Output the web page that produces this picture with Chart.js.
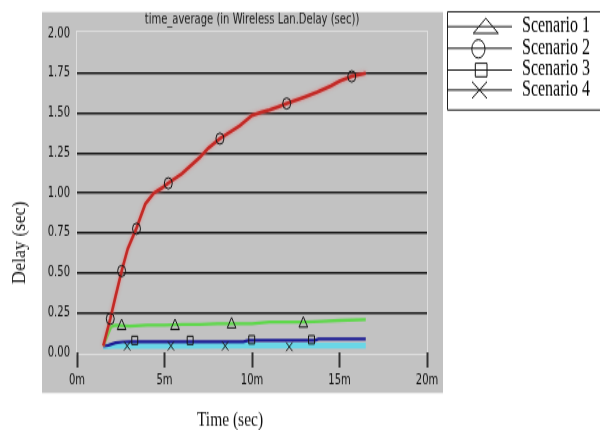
<!DOCTYPE html>
<html>
<head>
<meta charset="UTF-8">
<title>time_average (in Wireless Lan.Delay (sec))</title>
<script src="https://cdn.jsdelivr.net/npm/chart.js@4/dist/chart.umd.min.js"></script>
<style>
  html, body { margin:0; padding:0; background:#fff; }
  #cvs { display:block; }
</style>
</head>
<body>
<!-- drawn at 600x310, shown stretched to 600x430 -->
<canvas id="cvs" width="600" height="310" style="width:600px;height:430px"></canvas>
<script>
// series names
const names = ['Scenario 1', 'Scenario 2', 'Scenario 3', 'Scenario 4'];

// time (sec) / delay (sec) per scenario
const t1 = [90, 117, 132, 180, 240, 300, 360, 420, 480, 540, 600, 660, 720, 780, 840, 900, 990];
const d1 = [0.04, 0.16, 0.17, 0.165, 0.17, 0.17, 0.175, 0.175, 0.18, 0.18, 0.18, 0.19, 0.19, 0.19, 0.195, 0.20, 0.205];

const t2 = [90, 114, 132, 153, 174, 204, 234, 264, 291, 312, 360, 390, 420, 450, 490, 558, 600, 630, 660, 690, 720, 780, 822, 870, 900, 942, 990];
const d2 = [0.04, 0.21, 0.35, 0.51, 0.65, 0.78, 0.93, 1.00, 1.03, 1.06, 1.12, 1.17, 1.22, 1.28, 1.34, 1.42, 1.485, 1.505, 1.52, 1.54, 1.56, 1.60, 1.63, 1.67, 1.70, 1.73, 1.75];

const t3 = [90, 108, 132, 156, 180, 360, 570, 588, 816, 828, 990];
const d3 = [0.04, 0.045, 0.06, 0.065, 0.066, 0.066, 0.066, 0.075, 0.075, 0.084, 0.084];

const t4 = [90, 120, 300, 600, 900, 990];
const d4 = [0.035, 0.04, 0.04, 0.042, 0.042, 0.042];

// symbol positions along each curve
const m1t = [153, 336, 530, 776];
const m1d = [0.165, 0.165, 0.175, 0.18];
const m2t = [114, 153, 204, 313, 490, 719, 942];
const m2d = [0.21, 0.51, 0.775, 1.06, 1.34, 1.56, 1.73];
const m3t = [198, 388, 599, 804];
const m3d = [0.075, 0.075, 0.079, 0.079];
const m4t = [172, 322, 508, 728];
const m4d = [0.04, 0.04, 0.04, 0.035];

// axes
const xMax = 1200, xStep = 300;   // 0m .. 20m
const yMax = 2, yStep = 0.25;

const title = 'time_average (in Wireless Lan.Delay (sec))';
const xTitle = 'Time (sec)';
const yTitle = 'Delay (sec)';

(() => {
  const stretch = 430 / 310;
  const pts = (xs, ys) => xs.map((x, i) => ({ x, y: ys[i] }));
  const line = (label, xs, ys, color, w, order) => ({
    label, data: pts(xs, ys), borderColor: color, borderWidth: w,
    pointRadius: 0, tension: 0, fill: false, order
  });
  const marks = (label, xs, ys, style, r) => ({
    label, data: pts(xs, ys), showLine: false, pointStyle: style, pointRadius: r,
    pointBorderColor: '#151515', pointBackgroundColor: 'rgba(0,0,0,0)',
    pointBorderWidth: 1, order: 0
  });

  // grey panel, frame, titles
  const backdrop = {
    id: 'backdrop',
    beforeDraw(chart) {
      const c = chart.ctx, a = chart.chartArea;
      c.save();
      c.fillStyle = '#fff';
      c.fillRect(0, 0, chart.width, chart.height);
      c.fillStyle = '#c2c2c2';
      c.fillRect(42, 8.7, 401, 274.6);
      c.strokeStyle = '#dedede';
      c.lineWidth = 1;
      c.strokeRect(a.left - 0.5, a.top - 1.5, a.right - a.left + 1, a.bottom - a.top + 3);
      c.fillStyle = '#1a1a1a';
      c.font = '10px "DejaVu Sans"';
      c.textAlign = 'center';
      c.textBaseline = 'middle';
      c.fillText(title, (a.left + a.right) / 2, 14.4);
      c.fillStyle = '#111';
      c.font = '15.5px "Liberation Serif"';
      c.fillText(xTitle, 230, 302.8);
      // vertical title, squeezed so the page stretch leaves it upright
      c.translate(20, 175);
      c.scale(1, 1 / stretch);
      c.rotate(-Math.PI / 2);
      c.font = '18px "Liberation Serif"';
      c.fillText(yTitle, 0, 0);
      c.restore();
    }
  };

  // soft glow under the red curve
  const glow = {
    id: 'glow',
    beforeDatasetDraw(chart, args) {
      if (args.meta.dataset && args.meta.dataset.options.borderColor === '#c22a26') {
        chart.ctx.save();
        chart.ctx.shadowColor = 'rgba(235,120,120,0.9)';
        chart.ctx.shadowBlur = 3;
      }
    },
    afterDatasetDraw(chart, args) {
      if (args.meta.dataset && args.meta.dataset.options.borderColor === '#c22a26') chart.ctx.restore();
    }
  };

  // legend box at the right
  const legendBox = {
    id: 'legendBox',
    afterDraw(chart) {
      const c = chart.ctx;
      const rows = [19.2, 34.8, 50.5, 64.9];
      c.save();
      c.strokeStyle = '#222';
      c.lineWidth = 1;
      c.beginPath();
      c.moveTo(600, 8.5); c.lineTo(447.5, 8.5); c.lineTo(447.5, 79.3); c.lineTo(600, 79.3);
      c.stroke();
      rows.forEach((y, i) => {
        c.strokeStyle = '#111';
        c.lineWidth = 1;
        c.beginPath();
        c.moveTo(447, y); c.lineTo(512, y);
        c.stroke();
        c.beginPath();
        if (i === 0) {
          c.moveTo(485.8, 13.2); c.lineTo(498.3, 24); c.lineTo(473.3, 24); c.closePath();
        } else if (i === 1) {
          c.ellipse(478.4, y + 0.4, 6.6, 6.6, 0, 0, Math.PI * 2);
        } else if (i === 2) {
          c.rect(475.3, 45.6, 11.7, 9.7);
        } else {
          c.moveTo(472, 58.9); c.lineTo(487, 70.9);
          c.moveTo(487, 58.9); c.lineTo(472, 70.9);
        }
        c.stroke();
        c.fillStyle = '#000';
        c.font = '16px "Liberation Serif"';
        c.textAlign = 'left';
        c.textBaseline = 'middle';
        c.fillText(names[i], 522, y - 0.5);
      });
      c.restore();
    }
  };

  new Chart(document.getElementById('cvs'), {
    type: 'line',
    data: {
      datasets: [
        marks(names[0], m1t, m1d, 'triangle', 5),
        marks(names[1], m2t, m2d, 'circle', 4),
        marks(names[2], m3t, m3d, 'rect', 4.2),
        marks(names[3], m4t, m4d, 'crossRot', 4.5),
        line(names[1], t2, d2, '#c22a26', 2.6, 1),
        line(names[0], t1, d1, '#5ed84a', 2.3, 2),
        line(names[2], t3, d3, '#1c1c94', 2.2, 3),
        line(names[3], t4, d4, '#6ad6e6', 4.2, 4)
      ]
    },
    options: {
      responsive: false,
      animation: false,
      events: [],
      layout: { padding: { left: 0, right: 173, top: 24, bottom: 0 } },
      plugins: { legend: { display: false }, tooltip: { enabled: false } },
      scales: {
        x: {
          type: 'linear', min: 0, max: xMax,
          afterFit: s => { s.height = 56; },
          border: { display: false },
          grid: { drawOnChartArea: false, drawTicks: true, tickLength: 11, tickColor: '#333', tickWidth: 2 },
          ticks: {
            stepSize: xStep, padding: 3, color: '#111', maxRotation: 0,
            font: { family: 'DejaVu Sans', size: 10 },
            callback: v => (v / 60) + 'm'
          }
        },
        y: {
          min: 0, max: yMax,
          afterFit: s => { s.width = 77; },
          border: { display: false },
          grid: {
            drawTicks: false, lineWidth: 1.4,
            color: ctx => (ctx.tick && (ctx.tick.value === 0 || ctx.tick.value === yMax)) ? 'rgba(0,0,0,0)' : '#161616'
          },
          ticks: {
            stepSize: yStep, padding: 7, color: '#111',
            font: { family: 'DejaVu Sans', size: 10 },
            callback: v => v.toFixed(2)
          }
        }
      }
    },
    plugins: [backdrop, glow, legendBox]
  });
})();
</script>
</body>
</html>
